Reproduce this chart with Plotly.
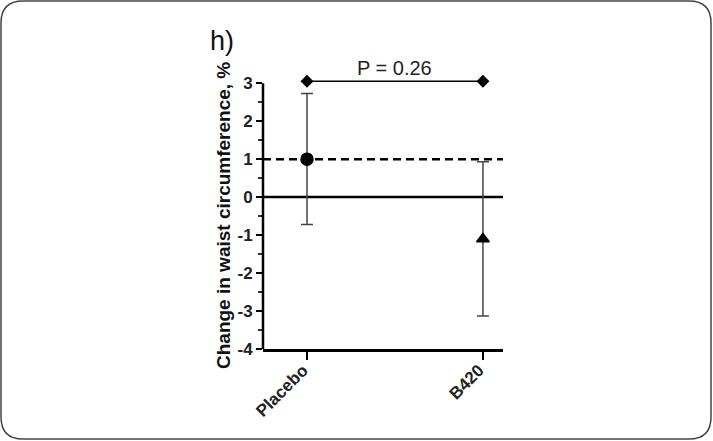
import plotly.graph_objects as go

# ---- data ----
categories = ["Placebo", "B420"]
means = [1.0, -1.1]
upper = [2.73, 0.93]
lower = [-0.72, -3.13]
marker_symbols = ["circle", "triangle-up"]
ref_solid_y = 0
ref_dashed_y = 1
p_bracket_y = 3.05
p_label = "P = 0.26"
panel_label = "h)"
y_title = "Change in waist circumference, %"
y_ticks = [-4, -3, -2, -1, 0, 1, 2, 3]
y_tick_text = ["-4", "-3", "-2", "-1", "0", "1", "2", "3"]
y_min, y_max, y_top = -4, 3, 3.4

W, H = 713, 441
L, R, T, B = 263, 210, 68, 92
pw, ph = W - L - R, H - T - B

def px(x):
    return (x - L) / pw

def py(y):
    return (H - B - y) / ph

xpos = list(range(len(categories)))
font = "Liberation Sans, Arial, sans-serif"

fig = go.Figure()

# error bars
fig.add_trace(go.Scatter(
    x=xpos, y=means, mode="markers",
    marker=dict(size=1, color="rgba(0,0,0,0)"),
    error_y=dict(type="data", symmetric=False,
                 array=[u - m for u, m in zip(upper, means)],
                 arrayminus=[m - l for m, l in zip(means, lower)],
                 color="#444", thickness=1.5, width=6),
    cliponaxis=False, showlegend=False, hoverinfo="skip",
))
# means
fig.add_trace(go.Scatter(
    x=xpos, y=means, mode="markers",
    marker=dict(symbol=marker_symbols, size=[12, 11], color="black", opacity=1,
                line=dict(color="black", width=1.5)),
    cliponaxis=False, showlegend=False,
))

# P-value bracket
fig.add_trace(go.Scatter(
    x=xpos, y=[p_bracket_y] * len(xpos), mode="lines+markers",
    line=dict(color="black", width=1.5),
    marker=dict(symbol="diamond", size=10, color="black"),
    cliponaxis=False, showlegend=False,
))

fig.add_annotation(x=0.5, y=p_bracket_y, text=p_label, showarrow=False,
                   yanchor="bottom", yshift=0,
                   font=dict(family=font, size=20, color="#222"))

# y axis line (only up to the top tick)
fig.add_shape(type="line", xref="paper", x0=0, x1=0, yref="y",
              y0=y_min, y1=y_max, line=dict(color="black", width=2.5))

# reference lines
fig.add_shape(type="line", xref="paper", x0=0, x1=1, yref="y",
              y0=ref_solid_y, y1=ref_solid_y, line=dict(color="black", width=2.5),
              layer="below")
fig.add_shape(type="line", xref="paper", x0=0, x1=1, yref="y",
              y0=ref_dashed_y, y1=ref_dashed_y,
              line=dict(color="black", width=2.5, dash="8px,5px"), layer="below")

# rounded border
x0, y0, x1, y1, r = 1, 1, 711, 439, 22
path = (f"M {px(x0 + r)},{py(y0)} L {px(x1 - r)},{py(y0)} "
        f"Q {px(x1)},{py(y0)} {px(x1)},{py(y0 + r)} "
        f"L {px(x1)},{py(y1 - r)} Q {px(x1)},{py(y1)} {px(x1 - r)},{py(y1)} "
        f"L {px(x0 + r)},{py(y1)} Q {px(x0)},{py(y1)} {px(x0)},{py(y1 - r)} "
        f"L {px(x0)},{py(y0 + r)} Q {px(x0)},{py(y0)} {px(x0 + r)},{py(y0)} Z")
fig.add_shape(type="path", xref="paper", yref="paper", path=path,
              line=dict(color="#444", width=1.5), layer="below")

fig.add_annotation(xref="paper", yref="paper", x=px(222), y=py(41),
                   xanchor="center", yanchor="middle", text=panel_label,
                   showarrow=False, font=dict(family=font, size=27, color="#111"))

fig.add_annotation(xref="paper", yref="paper", x=px(223), y=py(216),
                   xanchor="center", yanchor="middle", text=y_title, textangle=-90,
                   showarrow=False,
                   font=dict(family=font, size=19, color="#111", weight="bold"))

fig.update_layout(
    width=W, height=H,
    margin=dict(l=L, r=R, t=T, b=B),
    paper_bgcolor="white", plot_bgcolor="white",
    font=dict(family=font, color="#222"),
    xaxis=dict(range=[-0.25, 1.114], tickvals=xpos, ticktext=categories,
               tickangle=-45, ticks="outside", ticklen=8, tickwidth=2,
               tickcolor="black", showline=True, linecolor="black", linewidth=2.5,
               showgrid=False, zeroline=False,
               ticklabelstandoff=-6, ticklabelshift=-4,
               tickfont=dict(family=font, size=17, color="#222", weight="bold")),
    yaxis=dict(range=[y_min, y_top], tickvals=y_ticks, ticktext=y_tick_text,
               ticks="outside", ticklen=6,
               tickwidth=2, tickcolor="black", showline=False,
               showgrid=False, zeroline=False,
               minor=dict(tickvals=[-3.5, -2.5, -1.5, -0.5, 0.5, 1.5, 2.5],
                          ticks="outside", ticklen=4, tickwidth=1.5,
                          tickcolor="#333", showgrid=False),
               tickfont=dict(family=font, size=17, color="#222", weight="bold")),
)

fig.write_html("out.html", config={"displayModeBar": False},
               post_script="document.body.style.margin='0px';")
